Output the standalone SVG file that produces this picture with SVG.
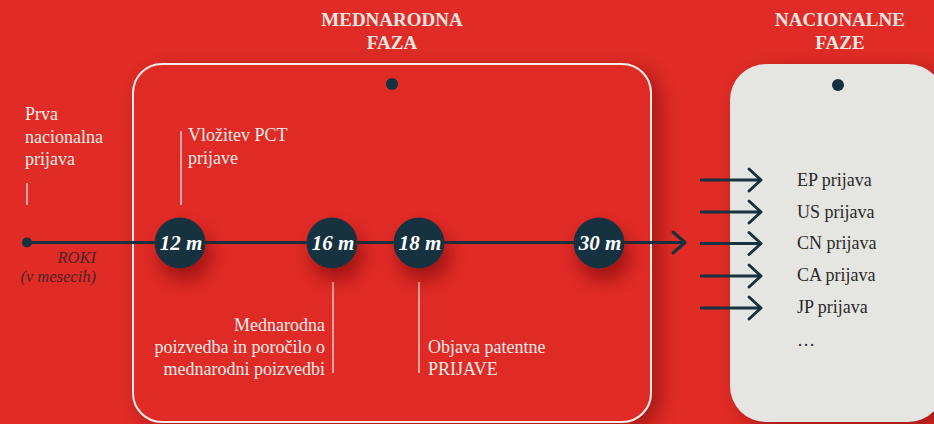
<svg xmlns="http://www.w3.org/2000/svg" width="934" height="424" viewBox="0 0 934 424">
<defs>
<filter id="sh" x="-20%" y="-20%" width="150%" height="150%">
<feGaussianBlur in="SourceAlpha" stdDeviation="9"/>
<feOffset dx="8" dy="6" result="b"/>
<feFlood flood-color="#5a0a0a" flood-opacity="0.45"/>
<feComposite in2="b" operator="in"/>
<feMerge><feMergeNode/><feMergeNode in="SourceGraphic"/></feMerge>
</filter>
<filter id="csh" x="-60%" y="-60%" width="240%" height="240%">
<feGaussianBlur in="SourceAlpha" stdDeviation="9"/>
<feOffset dx="5" dy="12" result="b"/>
<feFlood flood-color="#6a0808" flood-opacity="0.55"/>
<feComposite in2="b" operator="in"/>
<feMerge><feMergeNode/><feMergeNode in="SourceGraphic"/></feMerge>
</filter>
<style>
text{font-family:'Liberation Serif',serif}
.t{font-size:18px;fill:#f3ece8}
.h{font-size:19px;font-weight:bold;fill:#ece6e2;text-anchor:middle}
.d{font-size:18px;fill:#2a2a2a}
.c{font-size:21px;font-weight:bold;font-style:italic;fill:#ffffff;text-anchor:middle}
.r{font-size:16.5px;font-style:italic;fill:#4d2426;text-anchor:end}
.tick{stroke:#f0e6e2;stroke-width:1.3}
.ln{stroke:#14323f;stroke-width:3;fill:none}
.ch{stroke:#14323f;stroke-width:3;fill:none;stroke-linecap:round;stroke-linejoin:round}
.node{fill:#14323f}
</style>
</defs>
<rect width="934" height="424" fill="#e02b26"/>

<g id="mednarodna-faza">
<rect x="133" y="64" width="518" height="358" rx="29" fill="#e02b26" stroke="#f2ebe6" stroke-width="2" filter="url(#sh)"/>
<circle cx="392" cy="84" r="6" class="node"/>
<text class="h" x="392" y="26">MEDNARODNA</text>
<text class="h" x="392" y="49">FAZA</text>
</g>

<g id="nacionalne-faze">
<rect x="730" y="64" width="214" height="358" rx="36" fill="#e5e5e1" filter="url(#sh)"/>
<circle cx="838" cy="85" r="6" class="node"/>
<text class="h" x="840" y="26">NACIONALNE</text>
<text class="h" x="840" y="49">FAZE</text>
<text class="d" x="797" y="186">EP prijava</text>
<text class="d" x="797" y="218">US prijava</text>
<text class="d" x="797" y="249">CN prijava</text>
<text class="d" x="797" y="281">CA prijava</text>
<text class="d" x="797" y="313">JP prijava</text>
<text class="d" x="797" y="346">…</text>
</g>

<g id="connectors">
<line class="ln" x1="27" y1="242.5" x2="684" y2="242.5"/>
<polyline class="ch" points="673,232 685,242.5 673,253"/>
<line class="ln" x1="700" y1="180" x2="760" y2="180"/>
<polyline class="ch" points="749,169 761,180 749,191"/>
<line class="ln" x1="700" y1="212" x2="760" y2="212"/>
<polyline class="ch" points="749,201 761,212 749,223"/>
<line class="ln" x1="700" y1="243.5" x2="760" y2="243.5"/>
<polyline class="ch" points="749,232.5 761,243.5 749,254.5"/>
<line class="ln" x1="700" y1="276" x2="760" y2="276"/>
<polyline class="ch" points="749,265 761,276 749,287"/>
<line class="ln" x1="700" y1="308" x2="760" y2="308"/>
<polyline class="ch" points="749,297 761,308 749,319"/>
<line class="tick" x1="27" y1="183" x2="27" y2="205"/>
<line class="tick" x1="181" y1="131" x2="181" y2="205"/>
<line class="tick" x1="333" y1="282" x2="333" y2="373"/>
<line class="tick" x1="419" y1="282" x2="419" y2="373"/>
</g>

<g id="start">
<circle cx="27" cy="242.5" r="5" class="node"/>
<text class="t" x="25" y="120">Prva</text>
<text class="t" x="25" y="143">nacionalna</text>
<text class="t" x="25" y="165">prijava</text>
<text class="r" x="96" y="263">ROKI</text>
<text class="r" x="96" y="282">(v mesecih)</text>
</g>

<g id="m12">
<circle cx="180" cy="243" r="25.5" class="node" filter="url(#csh)"/>
<text class="c" x="181" y="250">12 m</text>
<text class="t" x="188" y="141">Vložitev PCT</text>
<text class="t" x="188" y="164">prijave</text>
</g>

<g id="m16">
<circle cx="332" cy="243" r="25.5" class="node" filter="url(#csh)"/>
<text class="c" x="333" y="250">16 m</text>
<text class="t" x="325" y="331" text-anchor="end">Mednarodna</text>
<text class="t" x="325" y="353" text-anchor="end">poizvedba in poročilo o</text>
<text class="t" x="325" y="375" text-anchor="end">mednarodni poizvedbi</text>
</g>

<g id="m18">
<circle cx="419" cy="243" r="25.5" class="node" filter="url(#csh)"/>
<text class="c" x="420" y="250">18 m</text>
<text class="t" x="428" y="353">Objava patentne</text>
<text class="t" x="428" y="375">PRIJAVE</text>
</g>

<g id="m30">
<circle cx="599" cy="243" r="25.5" class="node" filter="url(#csh)"/>
<text class="c" x="600" y="250">30 m</text>
</g>
</svg>
